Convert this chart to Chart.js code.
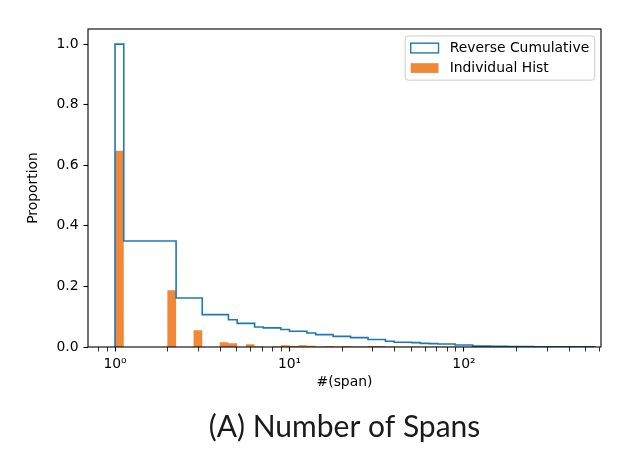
<!DOCTYPE html>
<html>
<head>
<meta charset="utf-8">
<script src="https://cdn.jsdelivr.net/npm/chart.js"></script>
<style>
  html, body { margin: 0; padding: 0; background: #fff; }
  #wrap { width: 628px; height: 458px; position: relative; }
</style>
</head>
<body>
<div id="wrap"><canvas id="spans-chart"></canvas></div>
<script>
// log-spaced bins: 20 bins per decade starting at 10^0
const BIN_STEP = 0.05;
const BIN_COUNT = 55;

// Reverse cumulative proportion per bin
const reverseCumulative = [
  1.0,
  0.35, 0.35, 0.35, 0.35, 0.35, 0.35,
  0.162, 0.162, 0.162,
  0.107, 0.107, 0.107,
  0.090,
  0.078, 0.078,
  0.066,
  0.063, 0.063,
  0.058,
  0.052, 0.052,
  0.046,
  0.041, 0.041,
  0.035, 0.035,
  0.031, 0.031,
  0.025, 0.025,
  0.019,
  0.0155, 0.0155,
  0.0145,
  0.012,
  0.011,
  0.010, 0.010,
  0.0066, 0.0066,
  0.003, 0.003,
  0.002, 0.002, 0.0015, 0.0015, 0.0012, 0.001, 0.001, 0.0008, 0.0006, 0.0005, 0.0004, 0.0003
];

// Individual histogram proportion per bin
const individualHist = [
  0.648, 0, 0, 0, 0, 0, 0.187, 0, 0, 0.055,
  0, 0, 0.0155, 0.012, 0, 0.009, 0.002, 0, 0.002, 0.0056,
  0.003, 0.0056, 0.004, 0.002, 0.003, 0.002, 0.003, 0.002, 0.002, 0.003,
  0.003, 0.002, 0.001, 0.001, 0.001, 0.001, 0.001, 0.001, 0.001, 0.001,
  0.001, 0.0005, 0.0005, 0.0005, 0.0005, 0.0003, 0.0003, 0.0003, 0.0003, 0.0002,
  0.0002, 0.0002, 0.0001, 0.0001, 0.0001
];

// axis ticks
const xMajorTicks = [1, 10, 100];
const xMajorLabels = ['10\u2070', '10\u00b9', '10\u00b2'];
const xMinorTicks = [0.8, 0.9, 2, 3, 4, 5, 6, 7, 8, 9, 20, 30, 40, 50, 60, 70, 80, 90, 200, 300, 400, 500, 600];
const yTicks = [0, 0.2, 0.4, 0.6, 0.8, 1.0];

const X_MIN = 0.73, X_MAX = 610;
const Y_MIN = 0, Y_MAX = 1.05;
const FONT_SIZE = 13.9;
const BLUE = '#1f77b4';
const ORANGE = '#f08838';

// bin edges
const binEdges = Array.from({ length: BIN_COUNT + 1 }, (_, k) => Math.pow(10, k * BIN_STEP));

// step outline for the reverse cumulative
const stepPoints = [{ x: binEdges[0], y: 0 }];
reverseCumulative.forEach((v, k) => {
  stepPoints.push({ x: binEdges[k], y: v });
  stepPoints.push({ x: binEdges[k + 1], y: v });
});
stepPoints.push({ x: binEdges[BIN_COUNT], y: 0 });

// filled bars for the individual histogram
const barPoints = [];
individualHist.forEach((v, k) => {
  if (v <= 0) return;
  barPoints.push({ x: binEdges[k], y: 0 });
  barPoints.push({ x: binEdges[k], y: v });
  barPoints.push({ x: binEdges[k + 1], y: v });
  barPoints.push({ x: binEdges[k + 1], y: 0 });
});

// frame around the plot area (all four spines)
const frame = {
  id: 'frame',
  afterDatasetsDraw(chart) {
    const { ctx, chartArea: a } = chart;
    ctx.save();
    ctx.strokeStyle = '#000';
    ctx.lineWidth = 1.1;
    ctx.strokeRect(a.left, a.top, a.right - a.left, a.bottom - a.top);
    ctx.restore();
  }
};

// matplotlib-like legend in the upper right
const mplLegend = {
  id: 'mplLegend',
  afterDraw(chart) {
    const { ctx, chartArea: a } = chart;
    const fs = FONT_SIZE;
    const items = chart.data.datasets;
    ctx.save();
    ctx.font = `${fs}px "DejaVu Sans"`;
    const textW = Math.max(...items.map(d => ctx.measureText(d.label).width));
    const pad = 0.4 * fs, hlen = 2 * fs, hgap = 0.8 * fs, rowH = 0.94 * fs, spacing = 0.5 * fs;
    const w = pad * 2 + hlen + hgap + textW;
    const h = pad * 2 + items.length * rowH + (items.length - 1) * spacing;
    const x = a.right - 0.45 * fs - w;
    const y = a.top + 0.5 * fs;

    ctx.beginPath();
    ctx.roundRect(x, y, w, h, 3);
    ctx.fillStyle = 'rgba(255,255,255,0.8)';
    ctx.fill();
    ctx.strokeStyle = '#cccccc';
    ctx.lineWidth = 1;
    ctx.stroke();

    items.forEach((d, i) => {
      const cy = y + pad + i * (rowH + spacing) + rowH / 2;
      const sx = x + pad, sy = cy - 0.35 * fs;
      if (d.fill) {
        ctx.fillStyle = d.backgroundColor;
        ctx.fillRect(sx, sy, hlen, 0.7 * fs);
      } else {
        ctx.fillStyle = '#fff';
        ctx.fillRect(sx, sy, hlen, 0.7 * fs);
        ctx.strokeStyle = d.borderColor;
        ctx.lineWidth = 1.4;
        ctx.strokeRect(sx, sy, hlen, 0.7 * fs);
      }
      ctx.fillStyle = '#000';
      ctx.textBaseline = 'middle';
      ctx.textAlign = 'left';
      ctx.fillText(d.label, sx + hlen + hgap, cy + 0.5);
    });
    ctx.restore();
  }
};

Chart.defaults.font.family = '"DejaVu Sans"';
Chart.defaults.font.size = FONT_SIZE;
Chart.defaults.color = '#000';

const ctx = document.getElementById('spans-chart').getContext('2d');
new Chart(ctx, {
  type: 'line',
  data: {
    datasets: [{
      label: 'Reverse Cumulative',
      data: stepPoints,
      borderColor: BLUE,
      borderWidth: 1.6,
      pointRadius: 0,
      fill: false,
      order: 0
    }, {
      label: 'Individual Hist',
      data: barPoints,
      borderWidth: 0,
      borderColor: 'rgba(0,0,0,0)',
      backgroundColor: ORANGE,
      pointRadius: 0,
      fill: 'origin',
      order: 1
    }]
  },
  options: {
    responsive: true,
    maintainAspectRatio: false,
    animation: false,
    devicePixelRatio: 1,
    layout: { padding: { left: 20, right: 27, top: 29, bottom: 0 } },
    scales: {
      x: {
        type: 'logarithmic',
        min: X_MIN,
        max: X_MAX,
        border: { display: false },
        grid: {
          drawOnChartArea: false,
          drawTicks: true,
          tickLength: 4.5,
          tickColor: '#000',
          tickWidth: c => (c.tick && xMajorTicks.includes(c.tick.value) ? 1.1 : 0.8)
        },
        afterBuildTicks: s => {
          s.ticks = xMajorTicks.concat(xMinorTicks).sort((a, b) => a - b).map(v => ({ value: v }));
        },
        ticks: {
          autoSkip: false,
          maxRotation: 0,
          padding: 5,
          callback: v => {
            const i = xMajorTicks.indexOf(v);
            return i >= 0 ? xMajorLabels[i] : '';
          }
        },
        title: { display: true, text: '#(span)', padding: { top: 4, bottom: 1 } },
        afterFit: s => { s.height = 45; }
      },
      y: {
        type: 'linear',
        min: Y_MIN,
        max: Y_MAX,
        border: { display: false },
        grid: {
          drawOnChartArea: false,
          drawTicks: true,
          tickLength: 4.5,
          tickColor: '#000',
          tickWidth: 1.1
        },
        afterBuildTicks: s => { s.ticks = yTicks.map(v => ({ value: v })); },
        ticks: { padding: 5, callback: v => Number(v).toFixed(1) },
        title: { display: true, text: 'Proportion', padding: { top: 5, bottom: 4 } },
        afterFit: s => { s.width = 68; }
      }
    },
    plugins: {
      legend: { display: false },
      tooltip: { enabled: false },
      title: {
        display: true,
        position: 'bottom',
        fullSize: false,
        text: '(A) Number of Spans',
        color: '#1a1a1a',
        font: { family: 'Lato', size: 30, weight: 'normal' },
        padding: { top: 17, bottom: 13 }
      }
    }
  },
  plugins: [frame, mplLegend]
});
</script>
</body>
</html>
